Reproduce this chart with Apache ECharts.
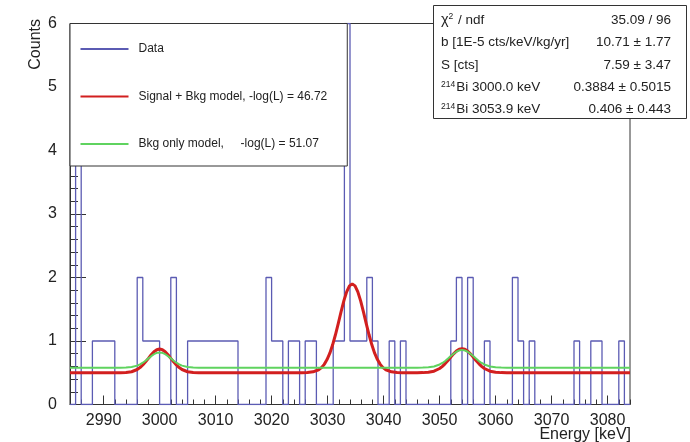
<!DOCTYPE html>
<html>
<head>
<meta charset="utf-8">
<script src="https://cdn.jsdelivr.net/npm/echarts@6/dist/echarts.min.js"></script>
<style>
html,body{margin:0;padding:0;background:#fff;}
#chart{width:690px;height:442px;}
</style>
</head>
<body>
<div id="chart"></div>
<script>
// ---- data ----
const energyMin = 2984;   // first bin low edge [keV]
const binWidth = 1;       // keV
// counts per 1 keV bin, 2984 ... 3083
const counts = [
  0,4,0,0,1,1,1,1,0,0,
  0,0,2,1,1,1,0,0,2,0,
  0,1,1,1,1,1,1,1,1,1,
  0,0,0,0,0,2,1,1,0,1,
  1,0,1,1,0,0,0,1,1,6,
  1,1,1,2,1,0,0,1,0,1,
  0,0,0,0,0,0,0,0,1,2,
  0,2,0,0,1,0,0,0,0,2,
  1,0,1,0,0,0,0,0,0,0,
  1,0,0,1,1,0,0,0,1,0
];
// Signal + Bkg fit curve, [energy, counts/keV]
const sigBkgCurve = [
  [2984,0.5],[2993,0.5],[2994,0.504],[2995,0.516],[2996,0.551],[2996.5,0.581],[2997,0.622],[2997.5,0.672],
  [2998,0.727],[2998.5,0.783],[2999,0.831],[2999.5,0.863],[3000,0.875],[3000.5,0.863],[3001,0.831],
  [3001.5,0.783],[3002,0.727],[3002.5,0.672],[3003,0.622],[3003.5,0.581],[3004,0.551],[3005,0.516],
  [3006,0.504],[3007,0.5],
  [3025.4,0.5],[3026.4,0.503],[3027.4,0.514],[3028.4,0.547],[3028.9,0.58],[3029.4,0.632],[3029.9,0.707],
  [3030.4,0.808],[3030.9,0.94],[3031.4,1.098],[3031.9,1.275],[3032.4,1.459],[3032.9,1.632],[3033.4,1.774],
  [3033.9,1.868],[3034.4,1.9],[3034.9,1.868],[3035.4,1.774],[3035.9,1.632],[3036.4,1.459],[3036.9,1.275],
  [3037.4,1.098],[3037.9,0.94],[3038.4,0.808],[3038.9,0.707],[3039.4,0.632],[3039.9,0.58],[3040.4,0.547],
  [3041.4,0.514],[3042.4,0.503],[3043.4,0.5],
  [3046,0.5],[3047,0.502],[3048,0.508],[3049,0.525],[3050,0.567],[3050.5,0.601],[3051,0.644],[3051.5,0.693],
  [3052,0.747],[3052.5,0.798],[3053,0.841],[3053.5,0.87],[3054,0.88],[3054.5,0.87],[3055,0.841],[3055.5,0.798],
  [3056,0.747],[3056.5,0.693],[3057,0.644],[3057.5,0.601],[3058,0.567],[3059,0.525],[3060,0.508],[3061,0.502],
  [3062,0.5],[3084,0.5]
];
// Bkg only fit curve, [energy, counts/keV]
const bkgCurve = [
  [2984,0.58],[2993,0.58],[2994,0.583],[2995,0.591],[2996,0.612],[2996.5,0.632],[2997,0.658],[2997.5,0.69],
  [2998,0.726],[2998.5,0.761],[2999,0.792],[2999.5,0.813],[3000,0.82],[3000.5,0.813],[3001,0.792],
  [3001.5,0.761],[3002,0.726],[3002.5,0.69],[3003,0.658],[3003.5,0.632],[3004,0.612],[3005,0.591],
  [3006,0.583],[3007,0.58],
  [3046,0.58],[3047,0.581],[3048,0.586],[3049,0.599],[3050,0.63],[3050.5,0.654],[3051,0.686],[3051.5,0.723],
  [3052,0.762],[3052.5,0.8],[3053,0.831],[3053.5,0.852],[3054,0.86],[3054.5,0.852],[3055,0.831],[3055.5,0.8],
  [3056,0.762],[3056.5,0.723],[3057,0.686],[3057.5,0.654],[3058,0.63],[3059,0.599],[3060,0.586],[3061,0.581],
  [3062,0.58],[3084,0.58]
];
const xTickValues = [2990,3000,3010,3020,3030,3040,3050,3060,3070,3080];
const seriesNames = ['Data', 'Signal + Bkg model, -log(L) = 46.72', 'Bkg only model,     -log(L) = 51.07'];
const statLabels = ['{g|\u03c7}{sup|2}{t| / ndf}', '{t|b [1E-5 cts/keV/kg/yr]}', '{t|S [cts]}', '{sup|214}{t|Bi 3000.0 keV}', '{sup|214}{t|Bi 3053.9 keV}'];
const statValues = ['35.09 / 96', '10.71 \u00b1 1.77', '7.59 \u00b1 3.47', '0.3884 \u00b1 0.5015', '0.406 \u00b1 0.443'];
const xTitle = 'Energy [keV]';
const yTitle = 'Counts';

// ---- build histogram outline from bins ----
const histData = [[energyMin, 0]];
for (let i = 0; i < counts.length; i++) histData.push([energyMin + i * binWidth, counts[i]]);
const energyMax = energyMin + counts.length * binWidth;
histData.push([energyMax, counts[counts.length - 1]]);
histData.push([energyMax, 0]);

const FONT = 'Liberation Sans, Arial, Helvetica, sans-serif';
const chart = echarts.init(document.getElementById('chart'), null, {renderer: 'canvas'});

const statGraphics = [];
const rowY = [20, 42.5, 65, 87.5, 109.5];
const SF = 13.5;
statGraphics.push({type: 'rect', shape: {x: 433.5, y: 5.5, width: 253, height: 113}, style: {fill: '#fff', stroke: '#333', lineWidth: 1}, z: 10});
statLabels.forEach((s, i) => {
  statGraphics.push({type: 'text', x: 441, y: rowY[i], z: 11, style: {
    text: s, align: 'left', verticalAlign: 'middle', fill: '#222', font: SF + 'px ' + FONT,
    rich: {
      t: {fontSize: SF, fontFamily: FONT, fill: '#222'},
      g: {fontSize: SF + 1, fontFamily: FONT, fill: '#222'},
      sup: {fontSize: 8.5, fontFamily: FONT, fill: '#222', verticalAlign: 'top', padding: [0, 1, 6, 0]}
    }
  }});
  statGraphics.push({type: 'text', x: 671, y: rowY[i], z: 11, style: {
    text: statValues[i], align: 'right', verticalAlign: 'middle', fill: '#222', font: SF + 'px ' + FONT
  }});
});

chart.setOption({
  animation: false,
  backgroundColor: '#fff',
  textStyle: {fontFamily: FONT},
  grid: {left: 70, right: 60, top: 23.5, bottom: 37.5, show: true, borderColor: '#333', borderWidth: 1, backgroundColor: 'transparent'},
  legend: {
    orient: 'vertical', left: 70, top: 23.5,
    itemWidth: 48, itemHeight: 14, itemGap: 35.5,
    padding: [19.5, 20, 16, 9.5],
    backgroundColor: '#fff', borderColor: '#333', borderWidth: 1, borderRadius: 0,
    itemStyle: {opacity: 0},
    textStyle: {fontSize: 12, color: '#222', fontFamily: FONT, padding: [0, 0, 0, 5]},
    data: seriesNames,
    selectedMode: false
  },
  xAxis: [{
    type: 'value', min: energyMin, max: energyMax, position: 'bottom',
    axisLine: {show: true, onZero: false, lineStyle: {color: '#333', width: 1}},
    axisTick: {show: true, inside: true, length: 9, customValues: xTickValues, lineStyle: {color: '#333'}},
    axisLabel: {show: true, customValues: xTickValues, formatter: v => String(v), fontSize: 16, color: '#222', margin: 8, fontFamily: FONT},
    splitLine: {show: false}
  }, {
    type: 'value', min: energyMin, max: energyMax, interval: 2, position: 'bottom',
    axisLine: {show: false},
    axisTick: {show: true, inside: true, length: 5, lineStyle: {color: '#333'}},
    axisLabel: {show: false},
    splitLine: {show: false}
  }],
  yAxis: {
    type: 'value', min: 0, max: 6, interval: 1,
    axisLine: {show: true, lineStyle: {color: '#333', width: 1}},
    axisTick: {show: true, inside: true, length: 16, lineStyle: {color: '#333'}},
    minorTick: {show: true, splitNumber: 5, length: 8, lineStyle: {color: '#333'}},
    axisLabel: {fontSize: 16, color: '#222', margin: 13, fontFamily: FONT},
    splitLine: {show: false}
  },
  series: [{
    name: seriesNames[0], type: 'line', step: 'end', data: histData, xAxisIndex: 0,
    symbol: 'none', lineStyle: {color: '#5b5bb3', width: 1.3}, itemStyle: {color: '#5b5bb3'}, z: 2
  }, {
    name: seriesNames[1], type: 'line', data: sigBkgCurve, xAxisIndex: 0,
    symbol: 'none', lineStyle: {color: '#d21f1f', width: 3}, itemStyle: {color: '#d21f1f'}, z: 3
  }, {
    name: seriesNames[2], type: 'line', data: bkgCurve, xAxisIndex: 0,
    symbol: 'none', lineStyle: {color: '#5fd35f', width: 2}, itemStyle: {color: '#5fd35f'}, z: 3
  }],
  graphic: [
    {type: 'text', x: 631, y: 435, style: {text: xTitle, align: 'right', verticalAlign: 'middle', font: '16px ' + FONT, fill: '#222'}},
    {type: 'text', x: 36, y: 19, rotation: Math.PI / 2, style: {text: yTitle, align: 'right', verticalAlign: 'middle', font: '16px ' + FONT, fill: '#222'}}
  ].concat(statGraphics)
});
</script>
</body>
</html>
